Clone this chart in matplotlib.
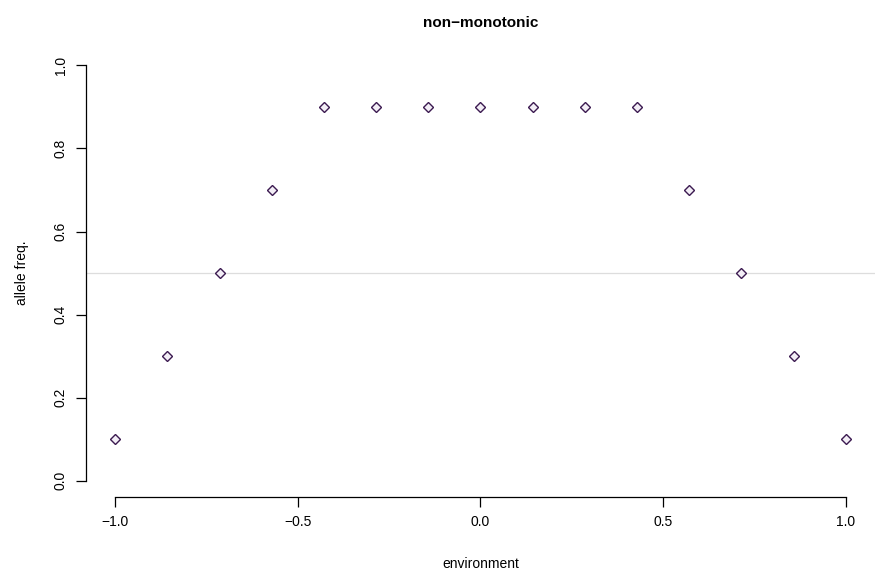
import matplotlib
matplotlib.use("Agg")
import matplotlib.pyplot as plt

plt.rcParams['font.family'] = ['Liberation Sans', 'DejaVu Sans']

# 数据
environment = [-1.0, -0.857, -0.714, -0.571, -0.429, -0.286, -0.143, 0.0,
               0.143, 0.286, 0.429, 0.571, 0.714, 0.857, 1.0]
allele_freq = [0.1, 0.3, 0.5, 0.7, 0.9, 0.9, 0.9, 0.9,
               0.9, 0.9, 0.9, 0.7, 0.5, 0.3, 0.1]
x_ticks = [-1.0, -0.5, 0.0, 0.5, 1.0]
y_ticks = [0.0, 0.2, 0.4, 0.6, 0.8, 1.0]

fig = plt.figure(figsize=(8.77, 5.81), dpi=100)
ax = fig.add_axes([0.098, 0.144, 0.8997, 0.772])

ax.axhline(0.5, color='#dddddd', lw=0.9, zorder=1)
ax.plot(environment, allele_freq, ls='none', marker='D', ms=5,
        mfc='#f3eef6', mec='#3b1a50', mew=1.0, zorder=3)

ax.set_xlim(-1.08, 1.08)
ax.set_ylim(-0.04, 1.04)

# R 风格坐标轴
for s in ['top', 'right']:
    ax.spines[s].set_visible(False)
ax.spines['left'].set_bounds(0, 1)
ax.spines['bottom'].set_bounds(-1, 1)
ax.spines['left'].set_linewidth(0.9)
ax.spines['bottom'].set_linewidth(0.9)

ax.set_xticks(x_ticks)
ax.set_yticks(y_ticks)
ax.set_xticklabels(['%.1f' % v if v >= 0 else '\u2212%.1f' % -v for v in x_ticks])
ax.set_yticklabels(['%.1f' % v for v in y_ticks], rotation=90, va='center')
ax.tick_params(length=7, width=0.9, labelsize=10, pad=6)

ax.set_xlabel('environment', fontsize=10, labelpad=20)
ax.set_ylabel('allele freq.', fontsize=10, labelpad=18)
ax.set_title('non\u2212monotonic', fontsize=11, fontweight='bold', pad=16)

fig.savefig('out.png', dpi=100)
